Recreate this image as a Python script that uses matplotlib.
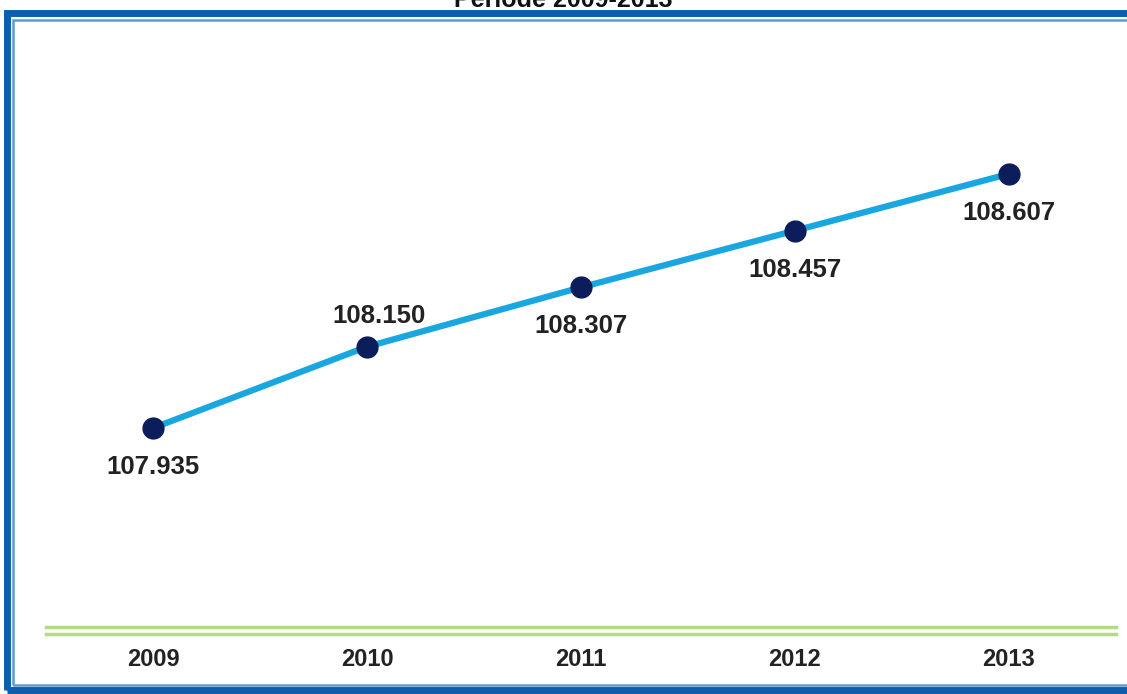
import matplotlib.pyplot as plt
from matplotlib.patches import Rectangle

plt.rcParams['font.family'] = ['Liberation Sans', 'DejaVu Sans']

# data
years = [2009, 2010, 2011, 2012, 2013]
values = [107.935, 108.150, 108.307, 108.457, 108.607]
labels = ["107.935", "108.150", "108.307", "108.457", "108.607"]
# label offsets in points (negative = below point)
label_dy = [-28, 22, -28, -28, -28]
label_dx = [0, 9, 0, 0, 0]

W, H = 1127, 694
fig = plt.figure(figsize=(W / 100, H / 100), dpi=100)


def fx(px):
    return px / W


def fy(py):
    return 1 - py / H


# outer frame
fig.patches.append(Rectangle((fx(7), fy(690)), fx(1140) - fx(7), fy(13) - fy(690),
                             transform=fig.transFigure, fill=False,
                             edgecolor='#0d5fae', linewidth=5))
fig.patches.append(Rectangle((fx(13), fy(685)), fx(1140) - fx(13), fy(20) - fy(685),
                             transform=fig.transFigure, fill=False,
                             edgecolor='#5b9bd5', linewidth=1.8))

# cut-off title at the top
fig.text(0.5, fy(7), "Periode 2009-2013", ha='center', va='baseline',
         fontsize=18, fontweight='bold', color='#111111')

ax = fig.add_axes([fx(46), fy(630), fx(1116) - fx(46), fy(40) - fy(630)])
ax.set_xlim(2008.5, 2013.5)
ax.set_ylim(107.401, 108.961)

ax.plot(years, values, color='#1aa7e0', linewidth=4.5, solid_capstyle='round', zorder=2)
ax.plot(years, values, 'o', color='#0b1d5a', markersize=15, zorder=3)

for x, y, t, dx, dy in zip(years, values, labels, label_dx, label_dy):
    ax.annotate(t, (x, y), xytext=(dx, dy), textcoords='offset points',
                ha='center', va='center', fontsize=18.5, fontweight='bold',
                color='#222222')

# double green baseline
ax.axhline(107.401 + 3 / 378, color='#b3d98c', linewidth=2.5, clip_on=False)
ax.axhline(107.401 - 4 / 378, color='#b3d98c', linewidth=2.5, clip_on=False)

for s in ax.spines.values():
    s.set_visible(False)
ax.set_yticks([])
ax.set_xticks(years)
ax.set_xticklabels([str(y) for y in years], fontsize=17, fontweight='bold', color='#222222')
ax.tick_params(axis='x', length=0, pad=13)

fig.savefig('out.png', dpi=100)
